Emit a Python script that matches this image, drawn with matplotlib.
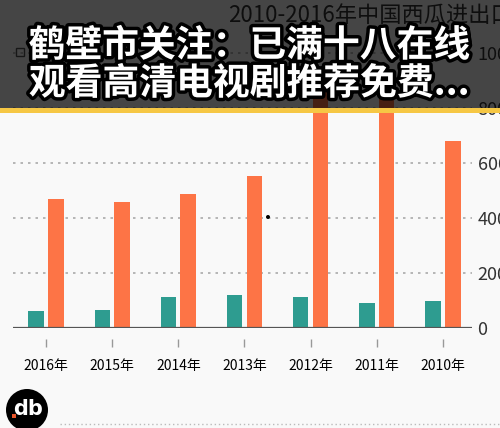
import matplotlib
matplotlib.use('Agg')
import matplotlib.pyplot as plt
import matplotlib.patheffects as pe
from matplotlib.patches import Rectangle, Ellipse
from matplotlib.lines import Line2D

plt.rcParams['font.family'] = ['Noto Sans CJK SC', 'DejaVu Sans']

# data (tons)
years = ['2010年', '2011年', '2012年', '2013年', '2014年', '2015年', '2016年']
exports = [9800, 9000, 11200, 12000, 11200, 6600, 6200]
imports = [68000, 92000, 88000, 55200, 48800, 45800, 47000]
yticks = [0, 20000, 40000, 60000, 80000, 100000]

title = '2010-2016年中国西瓜进出口量'
banner = ['鹤壁市关注：已满十八在线', '观看高清电视剧推荐免费...']

teal = '#2e9c90'
orange = '#fd7446'
bg = '#f9f9f9'

W, H = 500, 428
fig = plt.figure(figsize=(W / 100, H / 100), dpi=100, facecolor=bg)

# axes placed in pixel terms
left, right = 13, 472
base, top = 328, 328 - 5.3 * 55
ax = fig.add_axes([left / W, 1 - base / H, (right - left) / W, (base - top) / H])
ax.set_facecolor(bg)

x = list(range(len(years)))
w = 0.235
ax.bar([i + 0.15 for i in x], exports, width=w, color=teal, zorder=3)
ax.bar([i - 0.15 for i in x], imports, width=w, color=orange, zorder=3)

ax.set_xlim(6.5, -0.44)   # mirrored order, as in the screenshot
ax.set_ylim(0, 106000)
ax.axhline(0, color='#555555', lw=1.6, zorder=4)

ax.set_xticks(x)
ax.set_xticklabels(years, fontsize=10.5, color='#333333')
ax.set_yticks(yticks)
ax.set_yticklabels([str(v) for v in yticks], fontsize=13, color='#333333')
ax.yaxis.tick_right()
ax.tick_params(axis='y', length=0, pad=4)
ax.tick_params(axis='x', length=6, width=1, color='#999999', pad=8)
for s in ['top', 'left', 'right']:
    ax.spines[s].set_visible(False)
ax.spines['bottom'].set_position(('outward', 8))
ax.spines['bottom'].set_visible(False)
ax.grid(axis='y', linestyle=(0, (1.5, 3)), color='#aaaaaa', lw=1.2, zorder=0)

# faint chart title + legend box behind the banner
fig.text(228 / W, 1 - 16 / H, title, fontsize=16, color='#333333',
         ha='left', va='center')
fig.add_artist(Rectangle((16 / W, 1 - 56 / H), 8 / W, 8 / H, transform=fig.transFigure,
                         facecolor='none', edgecolor='#555555', lw=1))

# dark banner overlay + yellow strip
fig.add_artist(Rectangle((0, 1 - 108 / H), 1, 108 / H, transform=fig.transFigure,
                         facecolor='black', alpha=0.72, zorder=10))
fig.add_artist(Rectangle((0, 1 - 113 / H), 1, 5 / H, transform=fig.transFigure,
                         facecolor='#f6c744', zorder=10))

for i, line in enumerate(banner):
    fig.text(249 / W, 1 - (46 + 38 * i) / H, line, fontsize=26.5, fontweight='bold',
             color='white', ha='center', va='center', zorder=11,
             path_effects=[pe.withStroke(linewidth=5, foreground='black')])

# logo bottom-left and dotted line
fig.add_artist(Ellipse((27 / W, 1 - 410 / H), 42 / W, 42 / H, transform=fig.transFigure,
                       facecolor='black', zorder=5))
fig.text(28 / W, 1 - 409 / H, 'db', fontsize=15, fontweight='bold', color='white',
         ha='center', va='center', family='DejaVu Sans', zorder=6)
fig.add_artist(Rectangle((12 / W, 1 - 418 / H), 4 / W, 4 / H, transform=fig.transFigure,
                         facecolor='#e8552a', zorder=6))
fig.add_artist(Line2D([60 / W, 1], [1 - 424 / H, 1 - 424 / H], transform=fig.transFigure,
                      color='#bbbbbb', lw=1, linestyle=(0, (1, 2))))
# stray dot
fig.add_artist(Ellipse((268 / W, 1 - 217 / H), 4 / W, 4 / H, transform=fig.transFigure,
                       facecolor='black', zorder=6))

fig.savefig('out.png', dpi=100, facecolor=bg)
